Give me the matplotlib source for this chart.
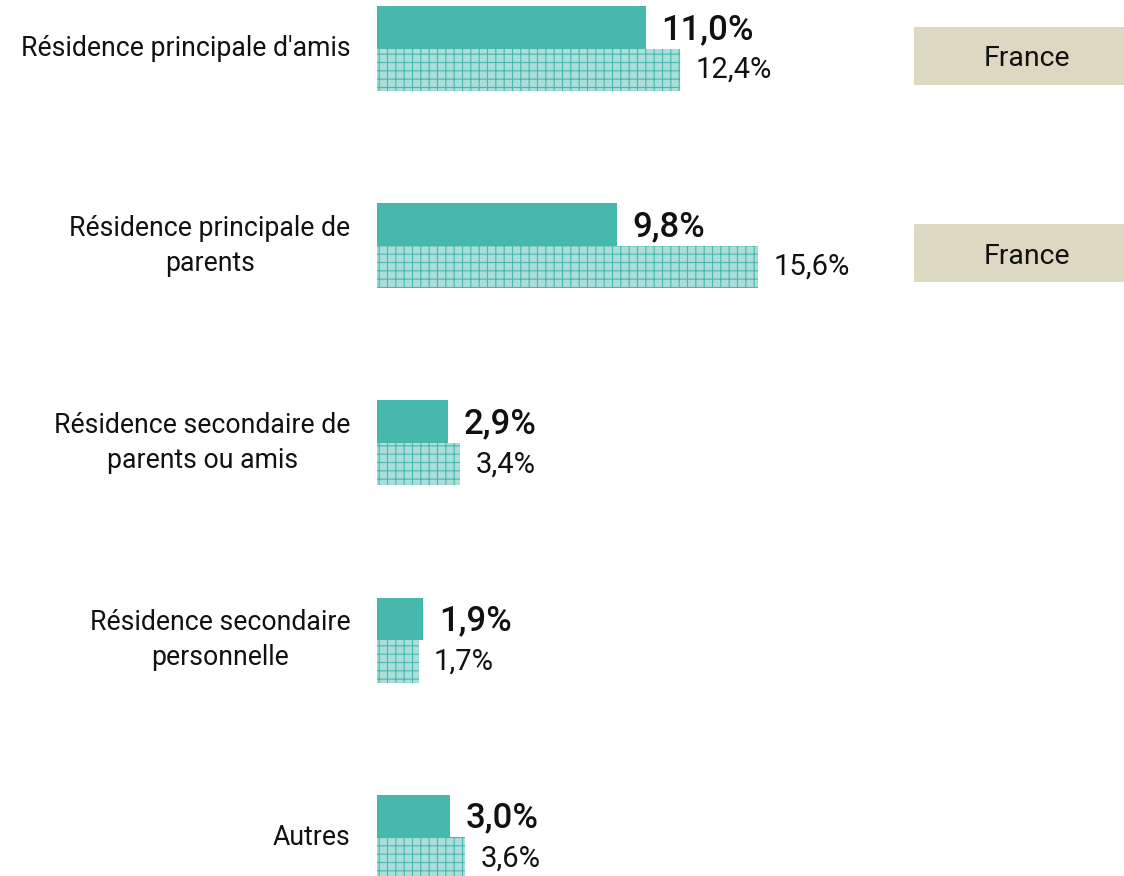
import matplotlib.pyplot as plt
from matplotlib.patches import Rectangle

plt.rcParams['font.family'] = ['Roboto', 'DejaVu Sans']
plt.rcParams['hatch.linewidth'] = 0.8

categories = ["Résidence principale d'amis",
              "Résidence principale de\nparents",
              "Résidence secondaire de\nparents ou amis",
              "Résidence secondaire\npersonnelle",
              "Autres"]
serie_a = [11.0, 9.8, 2.9, 1.9, 3.0]
serie_b = [12.4, 15.6, 3.4, 1.7, 3.6]
tagged = [0, 1]
tag_text = "France"

solid = "#46b8ae"
light = "#abdeda"
tag_bg = "#ddd8c2"

fig = plt.figure(figsize=(11.24, 8.76), dpi=100)
ax = fig.add_axes([377 / 1124, 0, 1 - 377 / 1124, 1])
ax.set_xlim(0, 747 / 24.45)
ax.set_ylim(876, 0)
ax.axis("off")

step = 197.2
h = 42.5
for i, cat in enumerate(categories):
    top = 6 + step * i
    ax.barh(top + h / 2, serie_a[i], height=h, color=solid, linewidth=0)
    ax.barh(top + 1.5 * h, serie_b[i], height=h, color=light,
            edgecolor=solid, hatch="++", linewidth=0)
    ax.annotate(f"{serie_a[i]:.1f}%".replace(".", ","), (serie_a[i], top + h / 2),
                xytext=(11, -1.5), textcoords="offset points", va="center",
                fontsize=25, fontweight="medium", color="#111111")
    ax.annotate(f"{serie_b[i]:.1f}%".replace(".", ","), (serie_b[i], top + 1.5 * h),
                xytext=(11, 0), textcoords="offset points", va="center",
                fontsize=21, color="#111111")
    ax.annotate(cat, (0, top + h), xytext=(-19, 0), textcoords="offset points",
                ha="right", va="center", fontsize=19.2, color="#111111",
                multialignment="center", linespacing=1.4)
    if i in tagged:
        tr = ax.get_yaxis_transform()
        ax.add_patch(Rectangle((537 / 747, top + 21), 1 - 537 / 747, 58,
                               transform=tr, color=tag_bg, linewidth=0))
        ax.text((537 / 747 + 1) / 2 + 8 / 747, top + 53, tag_text, transform=tr,
                ha="center", va="center", fontsize=20.5, color="#111111")

fig.savefig("out.png", dpi=100)
